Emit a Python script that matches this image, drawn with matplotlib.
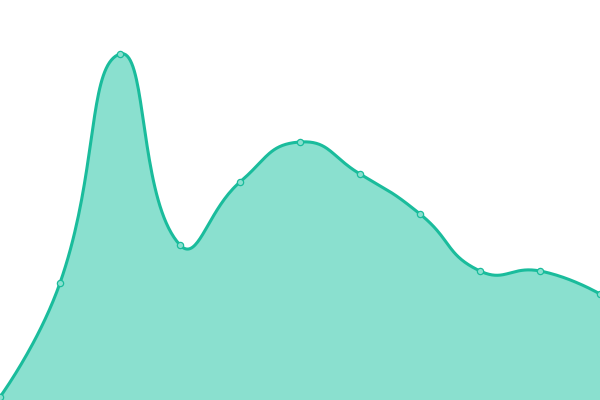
import numpy as np
import matplotlib
matplotlib.use('Agg')
from matplotlib import pyplot as plt

# data (x position of each category, value)
xs = [0, 60, 120, 180, 240, 300, 360, 420, 480, 540, 600]
values = [3, 117, 346, 155, 218, 258, 226, 186, 129, 129, 106]

line_color = '#1abc9c'
fill_color = '#8ae0cf'
smooth = 0.5


def smooth_curve(px, py, smooth=0.5, n=40):
    # bezier smoothing like echarts' smooth line
    px = np.asarray(px, float)
    py = np.asarray(py, float)
    m = len(px)
    cp_in = np.zeros((m, 2))
    cp_out = np.zeros((m, 2))
    for i in range(m):
        if i == 0 or i == m - 1:
            cp_in[i] = cp_out[i] = (px[i], py[i])
            continue
        dx = px[i + 1] - px[i - 1]
        dy = py[i + 1] - py[i - 1]
        l0 = np.hypot(px[i] - px[i - 1], py[i] - py[i - 1])
        l1 = np.hypot(px[i + 1] - px[i], py[i + 1] - py[i])
        r = l1 / (l0 + l1)
        cp_out[i] = (px[i] + dx * smooth * r, py[i] + dy * smooth * r)
        cp_in[i] = (px[i] - dx * smooth * (1 - r), py[i] - dy * smooth * (1 - r))
    t = np.linspace(0, 1, n)[:, None]
    out = []
    for i in range(m - 1):
        p0 = np.array([px[i], py[i]])
        p3 = np.array([px[i + 1], py[i + 1]])
        p1 = cp_out[i]
        p2 = cp_in[i + 1]
        seg = ((1 - t) ** 3) * p0 + 3 * ((1 - t) ** 2) * t * p1 + 3 * (1 - t) * t ** 2 * p2 + t ** 3 * p3
        out.append(seg if i == 0 else seg[1:])
    out = np.vstack(out)
    return out[:, 0], out[:, 1]


cx, cy = smooth_curve(xs, values, smooth)

fig = plt.figure(figsize=(6, 4), dpi=100)
ax = fig.add_axes([0, 0, 1, 1])
ax.fill_between(cx, 0, cy, color=fill_color, lw=0)
ax.plot(cx, cy, color=line_color, lw=2.2, solid_capstyle='round')
ax.plot(xs, values, 'o', ms=4.5, mfc=fill_color, mec=line_color, mew=0.9)
ax.set_xlim(0, 600)
ax.set_ylim(0, 400)
ax.axis('off')

plt.savefig('out.png', dpi=100)
